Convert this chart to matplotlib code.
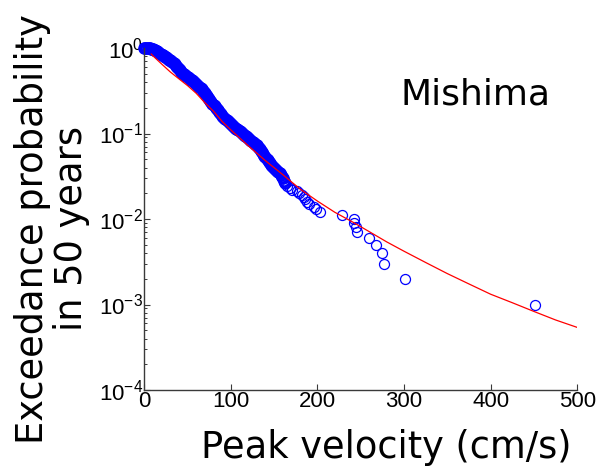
import matplotlib
matplotlib.use("Agg")
import matplotlib.pyplot as plt
from matplotlib.ticker import LogLocator, LogFormatterSciNotation, FixedLocator

plt.rcParams["mathtext.default"] = "regular"

# Peak velocity (cm/s) of the simulated events and their exceedance probability:
# the crowded low-velocity part ...
vel_dense = [0.0, 1.25, 2.5, 3.75, 5.0, 6.25, 7.5, 8.75, 10.0, 11.25, 12.5, 13.75,
             15.0, 16.25, 17.5, 18.75, 20.0, 21.25, 22.5, 23.75, 25.0, 26.25,
             27.5, 28.75, 30.0, 31.25, 32.5, 33.75, 35.0, 36.25, 37.5, 38.75,
             40.0, 41.25, 42.5, 43.75, 45.0, 46.25, 47.5, 48.75, 50.0, 51.25,
             52.5, 53.75, 55.0, 56.25, 57.5, 58.75, 60.0, 61.25, 62.5, 63.75,
             65.0, 66.25, 67.5, 68.75, 70.0, 71.25, 72.5, 73.75, 75.0, 76.25,
             77.5, 78.75, 80.0, 81.25, 82.5, 83.75, 85.0, 86.25, 87.5, 88.75,
             90.0, 91.25, 92.5, 93.75, 95.0, 96.25, 97.5, 98.75, 100.0, 101.25,
             102.5, 103.75, 105.0, 106.25, 107.5, 108.75, 110.0, 111.25, 112.5,
             113.75, 115.0, 116.25, 117.5, 118.75, 120.0, 121.25, 122.5, 123.75,
             125.0, 126.25, 127.5, 128.75, 130.0, 131.25, 132.5, 133.75, 135.0,
             136.25, 137.5, 138.75, 140.0, 141.25, 142.5, 143.75, 145.0, 146.25,
             147.5, 148.75, 150.0, 151.25, 152.5, 153.75, 155.0, 156.25, 157.5,
             158.75, 160.0, 161.25, 162.5]
prob_dense = [1.000, 0.999, 0.998, 0.996, 0.993, 0.988, 0.982, 0.974, 0.966,
              0.953, 0.940, 0.926, 0.912, 0.891, 0.871, 0.851, 0.832, 0.818,
              0.804, 0.790, 0.776, 0.761, 0.746, 0.731, 0.716, 0.698, 0.681,
              0.663, 0.646, 0.624, 0.603, 0.582, 0.562, 0.546, 0.531, 0.516,
              0.501, 0.490, 0.479, 0.468, 0.457, 0.447, 0.437, 0.427, 0.417,
              0.407, 0.398, 0.389, 0.380, 0.370, 0.361, 0.352, 0.343, 0.330,
              0.318, 0.306, 0.295, 0.283, 0.272, 0.261, 0.251, 0.241, 0.232,
              0.223, 0.214, 0.207, 0.200, 0.193, 0.186, 0.180, 0.174, 0.168,
              0.162, 0.157, 0.153, 0.149, 0.145, 0.141, 0.137, 0.133, 0.130,
              0.127, 0.124, 0.120, 0.117, 0.114, 0.112, 0.109, 0.106, 0.103,
              0.101, 0.0988, 0.0966, 0.0944, 0.0923, 0.0902, 0.0881, 0.0859,
              0.0838, 0.0816, 0.0794, 0.0776, 0.0759, 0.0741, 0.0724, 0.0700,
              0.0676, 0.0653, 0.0631, 0.0602, 0.0575, 0.0549, 0.0525, 0.0504,
              0.0484, 0.0465, 0.0447, 0.0434, 0.0422, 0.0410, 0.0398, 0.0387,
              0.0376, 0.0365, 0.0355, 0.0341, 0.0327, 0.0314, 0.0302, 0.0282,
              0.0263]
# ... and the rarer strong-motion events
vel_tail = [165, 168, 171, 176, 179, 182, 184, 186, 188, 190, 196, 198, 203,
            228, 242, 242, 245, 246, 260, 268, 274.5, 277, 301, 451]
prob_tail = [0.024, 0.023, 0.022, 0.021, 0.020, 0.019, 0.018, 0.017, 0.016,
             0.015, 0.014, 0.013, 0.012, 0.011, 0.010, 0.009, 0.008, 0.007,
             0.006, 0.005, 0.004, 0.003, 0.002, 0.001]

# Fitted hazard curve
fit_vel = [8, 10, 20, 30, 40, 50, 60, 70, 80, 90, 100, 120, 140, 160, 180,
           200, 220, 240, 260, 280, 300, 325, 350, 375, 400, 425, 450, 475, 500]
fit_prob = [0.85, 0.81, 0.65, 0.525, 0.436, 0.363, 0.295, 0.229, 0.182, 0.138,
            0.110, 0.072, 0.048, 0.033, 0.0224, 0.0162, 0.0120, 0.0093, 0.0071,
            0.0054, 0.0042, 0.0031, 0.0023, 0.00174, 0.00132, 0.00105, 0.00083,
            0.00066, 0.00054]

x_ticks = [0, 100, 200, 300, 400, 500]
site = "Mishima"

fig = plt.figure(figsize=(6.05, 4.72), dpi=100)
ax = fig.add_axes([0.2385, 0.1737, 0.7155, 0.7246])

ax.plot(fit_vel, fit_prob, color=(1, 0, 0), lw=0.9, zorder=3)
marker_style = dict(linestyle="none", marker="o", markersize=7.2,
                    markerfacecolor="none", markeredgecolor=(0, 0, 1),
                    clip_on=False, zorder=2)
ax.plot(vel_dense, prob_dense, markeredgewidth=1.8, **marker_style)
ax.plot(vel_tail, prob_tail, markeredgewidth=0.9, **marker_style)

ax.set_yscale("log")
ax.set_xlim(0, 500)
ax.set_ylim(1e-4, 1)

ax.xaxis.set_major_locator(FixedLocator(x_ticks))
ax.yaxis.set_major_locator(LogLocator(base=10, numticks=10))
ax.yaxis.set_minor_locator(LogLocator(base=10, subs=range(2, 10), numticks=50))
ax.yaxis.set_major_formatter(LogFormatterSciNotation())

for side in ("top", "right"):
    ax.spines[side].set_visible(False)
for side in ("left", "bottom"):
    ax.spines[side].set_color("#3a3a3a")
    ax.spines[side].set_linewidth(1.0)

ax.tick_params(which="major", direction="in", length=4, width=0.8,
               colors="#3a3a3a", labelcolor="black")
ax.tick_params(which="minor", direction="in", length=2.5, width=0.7,
               colors="#3a3a3a")
ax.tick_params(axis="x", which="minor", bottom=False)
for lab in ax.get_xticklabels() + ax.get_yticklabels():
    lab.set_fontfamily("Liberation Sans")
    lab.set_fontsize(16)
ax.tick_params(axis="x", pad=1)
ax.tick_params(axis="y", pad=1)

ax.text(0.766, 0.863, site, transform=ax.transAxes, ha="center",
        va="center", fontsize=26, family="DejaVu Sans")

fig.text(0.638, 0.052, "Peak velocity (cm/s)", ha="center", va="center",
         fontsize=26.5, family="DejaVu Sans")
fig.text(0.086, 0.515, "Exceedance probability\nin 50 years", ha="center",
         va="center", rotation=90, fontsize=26.5, family="DejaVu Sans",
         linespacing=1.1)

fig.savefig("out.png", dpi=100)
